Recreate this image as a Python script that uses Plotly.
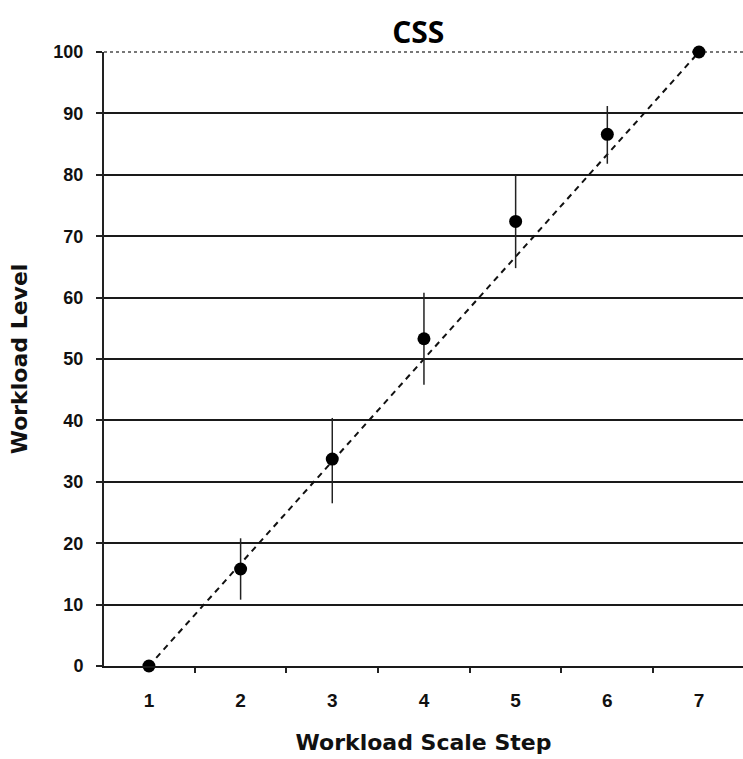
import plotly.graph_objects as go

# Data
steps = [1, 2, 3, 4, 5, 6, 7]
means = [0, 15.8, 33.7, 53.3, 72.4, 86.6, 100]
upper = [0, 20.8, 40.4, 60.8, 80.0, 91.2, 100]
lower = [0, 10.8, 26.5, 45.8, 64.8, 81.8, 100]
ref_x = [1, 7]
ref_y = [0, 100]
x_tick_labels = ["1", "2", "3", "4", "5", "6", "7"]
x_minor_ticks = [1.5, 2.5, 3.5, 4.5, 5.5, 6.5]
y_ticks = [0, 10, 20, 30, 40, 50, 60, 70, 80, 90, 100]

err_plus = [u - m for u, m in zip(upper, means)]
err_minus = [m - l for m, l in zip(means, lower)]

fig = go.Figure()

fig.add_trace(go.Scatter(
    x=ref_x, y=ref_y, mode="lines",
    line=dict(color="#111111", width=2, dash="6px,5px"),
    showlegend=False, hoverinfo="skip", cliponaxis=False,
))

fig.add_trace(go.Scatter(
    x=steps, y=means, mode="markers",
    marker=dict(color="#000000", size=13, symbol="circle"),
    error_y=dict(type="data", symmetric=False, array=err_plus, arrayminus=err_minus,
                 color="#222222", thickness=1.5, width=0),
    showlegend=False, cliponaxis=False,
))

# dotted top border of the plot area
fig.add_shape(type="line", xref="paper", yref="paper", x0=0, x1=1, y0=1, y1=1,
              line=dict(color="#777777", width=2, dash="dot"), layer="below")

fig.update_layout(
    width=743, height=759,
    margin=dict(l=104, r=0, t=52, b=93),
    paper_bgcolor="white", plot_bgcolor="white",
    title=dict(text="CSS", x=0.563, xanchor="center", y=0.957, yanchor="middle",
               font=dict(family="Open Sans", size=30, color="#000000", weight="bold")),
    xaxis=dict(
        range=[0.51, 7.48],
        tickmode="array", tickvals=steps, ticktext=x_tick_labels,
        ticks="", showgrid=False, zeroline=False,
        showline=True, linecolor="#1a1a1a", linewidth=2,
        tickfont=dict(family="Liberation Sans", size=19, color="#111111", weight="bold"),
        ticklabelstandoff=16,
        minor=dict(tickmode="array", tickvals=x_minor_ticks,
                   ticks="outside", ticklen=5, tickwidth=1.5, tickcolor="#222222",
                   showgrid=False),
        title=dict(text="Workload Scale Step", standoff=25,
                   font=dict(family="DejaVu Sans", size=22, color="#111111", weight="bold")),
        automargin=False,
    ),
    yaxis=dict(
        range=[0, 100],
        tickmode="array", tickvals=y_ticks,
        ticks="outside", ticklen=6, tickwidth=1.5, tickcolor="#222222",
        ticklabelstandoff=9,
        showgrid=True, gridcolor="#1a1a1a", gridwidth=2,
        zeroline=False, showline=True, linecolor="#222222", linewidth=2,
        tickfont=dict(family="Liberation Sans", size=18, color="#111111", weight="bold"),
        title=dict(text="Workload Level", standoff=20,
                   font=dict(family="DejaVu Sans", size=22, color="#111111", weight="bold")),
        automargin=False,
    ),
)

fig.write_html("out.html")
